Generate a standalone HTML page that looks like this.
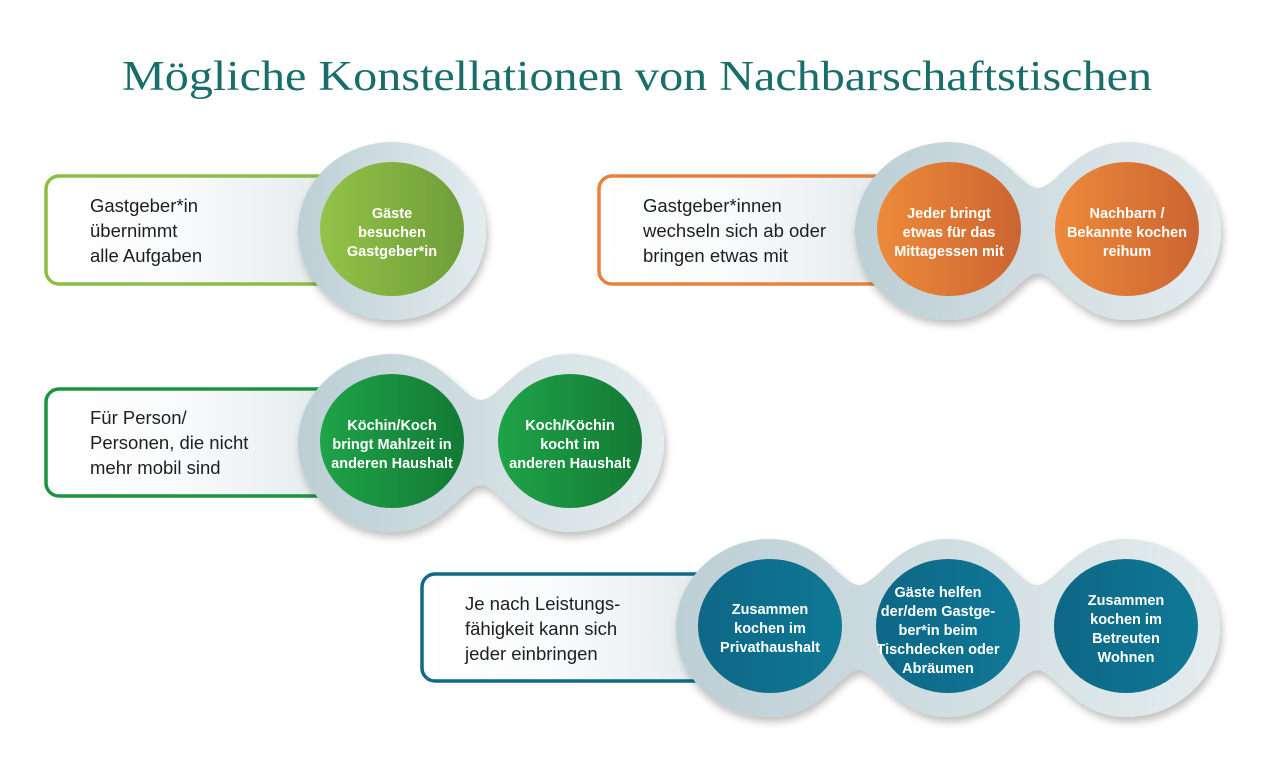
<!DOCTYPE html>
<html><head><meta charset="utf-8"><style>
html,body{margin:0;padding:0;background:#fff;}
svg{display:block}
.t{font-family:"Liberation Sans",sans-serif;font-size:18.5px;fill:#1e1e1e}
.c{font-family:"Liberation Sans",sans-serif;font-size:14.5px;font-weight:bold;fill:#fff;text-anchor:middle}
</style></head><body>
<svg width="1261" height="758" viewBox="0 0 1261 758" xmlns="http://www.w3.org/2000/svg">
<defs>
<linearGradient id="box" x1="0" x2="1" y1="0" y2="0"><stop offset="0" stop-color="#fff"/><stop offset="0.4" stop-color="#fafbfc"/><stop offset="1" stop-color="#dfe7ea"/></linearGradient>
<linearGradient id="ring" x1="0" x2="1" y1="0" y2="0"><stop offset="0" stop-color="#bccfd5"/><stop offset="1" stop-color="#e4ecee"/></linearGradient>
<linearGradient id="g1" x1="0" x2="1"><stop offset="0" stop-color="#93c347"/><stop offset="1" stop-color="#6f9d3a"/></linearGradient>
<linearGradient id="o1" x1="0" x2="1"><stop offset="0" stop-color="#ee8a3a"/><stop offset="1" stop-color="#cb6531"/></linearGradient>
<linearGradient id="d1" x1="0" x2="1"><stop offset="0" stop-color="#1fa348"/><stop offset="1" stop-color="#137a35"/></linearGradient>
<linearGradient id="b1" x1="0" x2="1"><stop offset="0" stop-color="#0e6786"/><stop offset="1" stop-color="#0f7895"/></linearGradient>
<filter id="sh" x="-20%" y="-20%" width="140%" height="150%"><feDropShadow dx="2" dy="5" stdDeviation="4" flood-color="#000" flood-opacity="0.25"/></filter>
</defs>

<text x="637" y="90" text-anchor="middle" font-family="Liberation Serif,serif" font-size="42" fill="#1a6e6a" textLength="1030" lengthAdjust="spacingAndGlyphs">Mögliche Konstellationen von Nachbarschaftstischen</text>

<!-- Row 1 green -->
<rect x="46" y="176" width="320" height="108" rx="13" fill="url(#box)" stroke="#8cbd45" stroke-width="3.5"/>
<text class="t"><tspan x="90" y="212">Gastgeber*in</tspan><tspan x="90" y="237">übernimmt</tspan><tspan x="90" y="262">alle Aufgaben</tspan></text>
<g filter="url(#sh)"><ellipse cx="392" cy="231" rx="94" ry="89" fill="url(#ring)"/></g>
<ellipse cx="392" cy="229" rx="72" ry="67" fill="url(#g1)"/>
<text class="c"><tspan x="392" y="218">Gäste</tspan><tspan x="392" y="237">besuchen</tspan><tspan x="392" y="256">Gastgeber*in</tspan></text>

<!-- Row 1 orange -->
<rect x="599" y="176" width="320" height="108" rx="13" fill="url(#box)" stroke="#e8823a" stroke-width="3.5"/>
<text class="t"><tspan x="643" y="212">Gastgeber*innen</tspan><tspan x="643" y="237">wechseln sich ab oder</tspan><tspan x="643" y="262">bringen etwas mit</tspan></text>
<g filter="url(#sh)" fill="url(#ring)">
<path d="M949 142 C1000 142 1020 188 1038 188 C1056 188 1076 142 1127 142 A94 89 0 0 1 1127 320 C1076 320 1056 273 1038 273 C1020 273 1000 320 949 320 A94 89 0 0 1 949 142 Z"/>
</g>
<ellipse cx="949" cy="229" rx="72" ry="67" fill="url(#o1)"/>
<ellipse cx="1127" cy="229" rx="72" ry="67" fill="url(#o1)"/>
<text class="c"><tspan x="949" y="218">Jeder bringt</tspan><tspan x="949" y="237">etwas für das</tspan><tspan x="949" y="256">Mittagessen mit</tspan></text>
<text class="c"><tspan x="1127" y="218">Nachbarn /</tspan><tspan x="1127" y="237">Bekannte kochen</tspan><tspan x="1127" y="256">reihum</tspan></text>

<!-- Row 2 -->
<rect x="46" y="389" width="320" height="107" rx="13" fill="url(#box)" stroke="#1a9440" stroke-width="3.5"/>
<text class="t"><tspan x="90" y="424">Für Person/</tspan><tspan x="90" y="449">Personen, die nicht</tspan><tspan x="90" y="474">mehr mobil sind</tspan></text>
<g filter="url(#sh)" fill="url(#ring)">
<path d="M392 354 C443 354 463 400 481 400 C499 400 519 354 570 354 A94 89 0 0 1 570 532 C519 532 499 485 481 485 C463 485 443 532 392 532 A94 89 0 0 1 392 354 Z"/>
</g>
<ellipse cx="392" cy="441" rx="72" ry="67" fill="url(#d1)"/>
<ellipse cx="570" cy="441" rx="72" ry="67" fill="url(#d1)"/>
<text class="c"><tspan x="392" y="430">Köchin/Koch</tspan><tspan x="392" y="449">bringt Mahlzeit in</tspan><tspan x="392" y="468">anderen Haushalt</tspan></text>
<text class="c"><tspan x="570" y="430">Koch/Köchin</tspan><tspan x="570" y="449">kocht im</tspan><tspan x="570" y="468">anderen Haushalt</tspan></text>

<!-- Row 3 -->
<rect x="422" y="574" width="320" height="107" rx="13" fill="url(#box)" stroke="#0f6a87" stroke-width="3.5"/>
<text class="t"><tspan x="465" y="610">Je nach Leistungs-</tspan><tspan x="465" y="635">fähigkeit kann sich</tspan><tspan x="465" y="660">jeder einbringen</tspan></text>
<g filter="url(#sh)" fill="url(#ring)">
<path d="M770 539 C821 539 841 585 859 585 C877 585 897 539 948 539 C999 539 1019 585 1037 585 C1055 585 1075 539 1126 539 A94 89 0 0 1 1126 717 C1075 717 1055 670 1037 670 C1019 670 999 717 948 717 C897 717 877 670 859 670 C841 670 821 717 770 717 A94 89 0 0 1 770 539 Z"/>
</g>
<ellipse cx="770" cy="626" rx="72" ry="67" fill="url(#b1)"/>
<ellipse cx="948" cy="626" rx="72" ry="67" fill="url(#b1)"/>
<ellipse cx="1126" cy="626" rx="72" ry="67" fill="url(#b1)"/>
<text class="c"><tspan x="770" y="614">Zusammen</tspan><tspan x="770" y="633">kochen im</tspan><tspan x="770" y="652">Privathaushalt</tspan></text>
<text class="c"><tspan x="938" y="597">Gäste helfen</tspan><tspan x="938" y="616">der/dem Gastge-</tspan><tspan x="938" y="635">ber*in beim</tspan><tspan x="938" y="654">Tischdecken oder</tspan><tspan x="938" y="673">Abräumen</tspan></text>
<text class="c"><tspan x="1126" y="605">Zusammen</tspan><tspan x="1126" y="624">kochen im</tspan><tspan x="1126" y="643">Betreuten</tspan><tspan x="1126" y="662">Wohnen</tspan></text>
</svg>
</body></html>
